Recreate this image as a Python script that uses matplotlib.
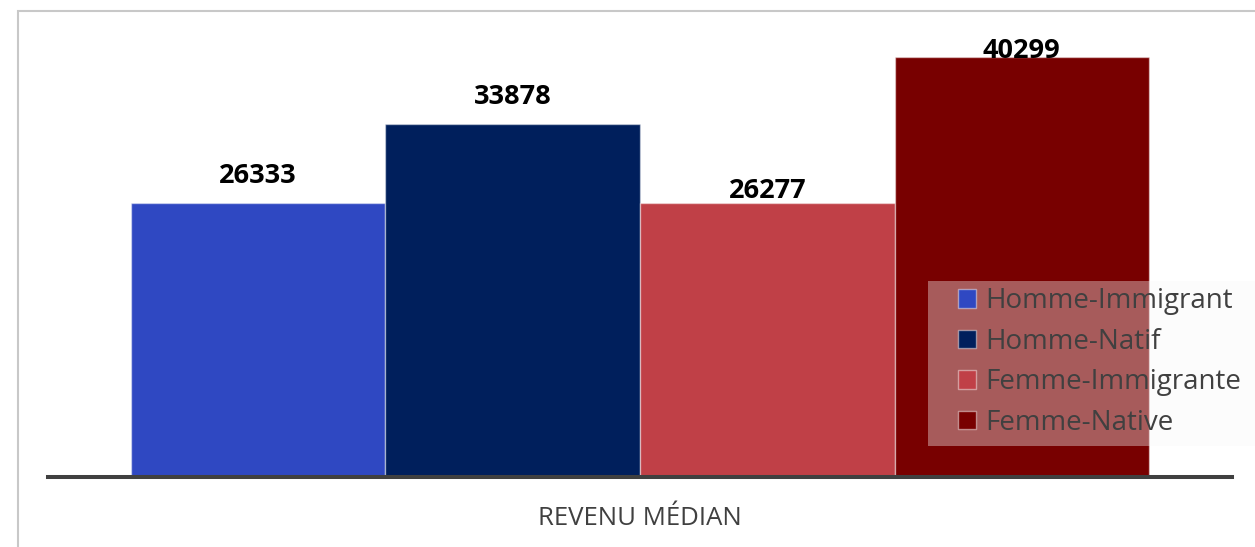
import matplotlib
matplotlib.use("Agg")
import matplotlib.pyplot as plt
from matplotlib.patches import Rectangle

# data
categories = ["Homme-Immigrant", "Homme-Natif", "Femme-Immigrante", "Femme-Native"]
values = [26333, 33878, 26277, 40299]
colors = ["#2F48C2", "#001F5C", "#C04047", "#780000"]
label_offsets = [20, 20, 5, -1]  # px between bar top and label baseline
x_label = "REVENU MÉDIAN"

W, H = 1255, 547
plt.rcParams['font.family'] = ['Open Sans', 'DejaVu Sans']

fig = plt.figure(figsize=(W / 100, H / 100), dpi=100)
ax = fig.add_axes([48 / W, (H - 477) / H, (1232 - 48) / W, (477 - 8) / H])

xs = list(range(len(values)))
bars = ax.bar(xs, values, width=1.0, color=colors,
              edgecolor=(1, 1, 1, 0.45), linewidth=1.0, zorder=2)
for b, name in zip(bars, categories):
    b.set_label(name)

for x, v, off in zip(xs, values, label_offsets):
    ax.annotate(str(v), (x, v), xytext=(0, off), textcoords='offset pixels',
                ha='center', va='baseline', fontsize=19.5, fontweight='bold',
                color='black', zorder=5)

ax.set_xlim(-0.826, 3.826)
ax.set_ylim(0, 45000)
ax.set_yticks([])
ax.set_xticks([1.5])
ax.set_xticklabels([x_label], fontsize=18.5, color='#404040')
ax.tick_params(axis='x', length=0, pad=21)
for s in ['top', 'left', 'right']:
    ax.spines[s].set_visible(False)
ax.spines['bottom'].set_color('#404040')
ax.spines['bottom'].set_linewidth(2.9)
ax.spines['bottom'].set_zorder(3)
ax.patch.set_visible(False)

# outer chart border (light grey)
fig.patches.append(Rectangle((18 / W, -0.1), 1.2, (H - 11) / H + 0.1,
                             transform=fig.transFigure, fill=False,
                             edgecolor='#C8C8C8', linewidth=1.5))

# legend background, semi transparent
fig.patches.append(Rectangle((928 / W, (H - 446) / H), 1.0, (446 - 281) / H,
                             transform=fig.transFigure, facecolor='#F8F8F8',
                             alpha=0.37, edgecolor='none', zorder=4))

leg = fig.legend(loc='upper left', bbox_to_anchor=(950 / W, (H - 279) / H),
                 frameon=False, fontsize=20, handlelength=0.65, handleheight=0.65,
                 handletextpad=0.32, labelspacing=0.45, borderpad=0.3,
                 borderaxespad=0)
for t in leg.get_texts():
    t.set_color('#404040')
leg.set_zorder(6)

fig.savefig("out.png", dpi=100)
